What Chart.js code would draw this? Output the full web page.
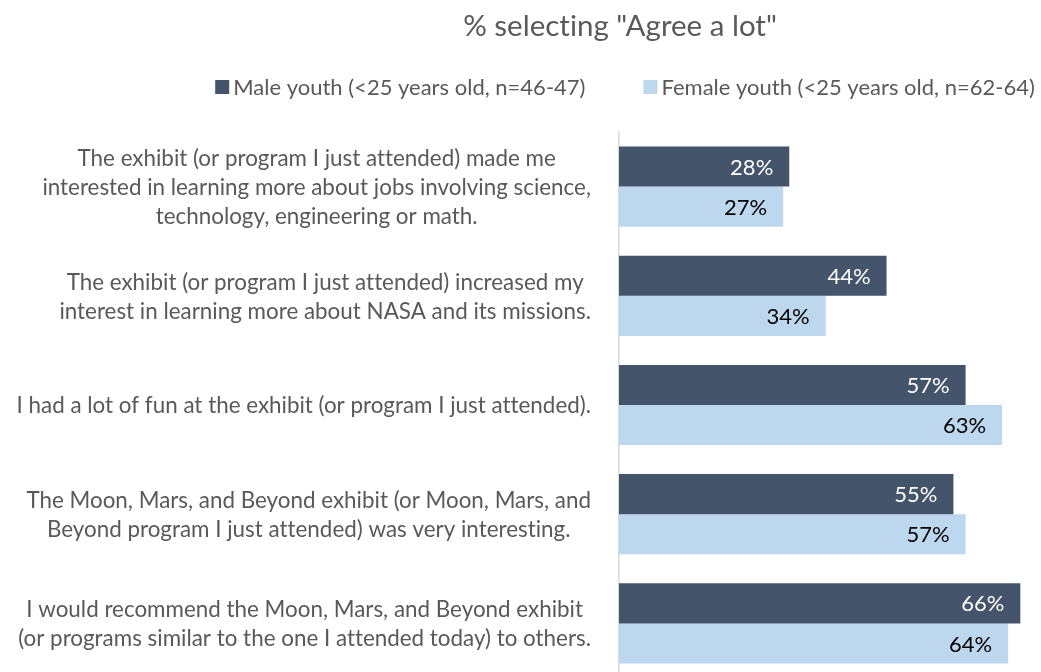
<!DOCTYPE html>
<html>
<head>
<meta charset="utf-8">
<script src="https://cdn.jsdelivr.net/npm/chart.js@4"></script>
<style>
  html, body { margin: 0; padding: 0; background: #fff; overflow: hidden; }
  #wrap { position: relative; width: 1041px; height: 680px; }
</style>
</head>
<body>
<div id="wrap"><canvas id="c"></canvas></div>
<script>
// Survey statements (each entry is one wrapped label, one string per line)
const statements = [
  ["The exhibit (or program I just attended) made me",
   "interested in learning more about jobs involving science,",
   "technology, engineering or math."],
  ["The exhibit (or program I just attended) increased my",
   "interest in learning more about NASA and its missions."],
  ["I had a lot of fun at the exhibit (or program I just attended)."],
  ["The Moon, Mars, and Beyond exhibit (or Moon, Mars, and",
   "Beyond program I just attended) was very interesting."],
  ["I would recommend the Moon, Mars, and Beyond exhibit",
   "(or programs similar to the one I attended today) to others."]
];

// Percent selecting "Agree a lot"
const maleYouth   = [28, 44, 57, 55, 66];
const femaleYouth = [27, 34, 63, 57, 64];

const seriesNames = [
  "Male youth (<25 years old, n=46-47)",
  "Female youth (<25 years old, n=62-64)"
];
const chartTitle = '% selecting "Agree a lot"';

const FONT = "Lato, 'Open Sans', sans-serif";
const TEXT_GREY = "#595959";
const MALE_COLOR = "#44546A";
const FEMALE_COLOR = "#BDD7EE";

// Title, legend, wrapped category labels and value labels
const decorations = {
  id: "decorations",
  afterDatasetsDraw(chart) {
    const ctx = chart.ctx;
    const area = chart.chartArea;
    const yScale = chart.scales.y;
    ctx.save();
    // plain glyphs, no ligatures
    if ("textRendering" in ctx) ctx.textRendering = "optimizeSpeed";

    // Title
    ctx.fillStyle = TEXT_GREY;
    ctx.font = "29.5px " + FONT;
    ctx.textAlign = "center";
    ctx.textBaseline = "middle";
    ctx.fillText(chartTitle, 620, 26);

    // Legend
    ctx.font = "22px " + FONT;
    const box = 14, gap = 4, spacing = 58;
    const colors = chart.data.datasets.map(d => d.backgroundColor);
    const names = chart.data.datasets.map(d => d.label);
    const widths = names.map(n => ctx.measureText(n).width);
    const total = widths.reduce((s, w) => s + box + gap + w, 0) + spacing * (names.length - 1);
    let lx = 625 - total / 2;
    const ly = 87;
    ctx.textAlign = "left";
    names.forEach((n, i) => {
      ctx.fillStyle = colors[i];
      ctx.fillRect(lx, ly - box / 2, box, box);
      lx += box + gap;
      ctx.fillStyle = TEXT_GREY;
      ctx.fillText(n, lx, ly + 1);
      lx += widths[i] + spacing;
    });

    // Category labels: each block right-aligned against the axis, lines centred within it
    ctx.font = "22.4px " + FONT;
    ctx.fillStyle = TEXT_GREY;
    ctx.textAlign = "center";
    const lineH = 29;
    const rightEdge = area.left - 28;
    chart.data.labels.forEach((lines, i) => {
      const cy = yScale.getPixelForValue(i);
      const blockW = Math.max(...lines.map(l => ctx.measureText(l).width));
      const cx = rightEdge - blockW / 2;
      const y0 = cy - (lines.length - 1) * lineH / 2;
      lines.forEach((l, j) => ctx.fillText(l, cx, y0 + j * lineH + 1));
    });

    // Value labels inside the bar ends
    ctx.font = "22px " + FONT;
    ctx.textAlign = "right";
    chart.data.datasets.forEach((ds, di) => {
      const meta = chart.getDatasetMeta(di);
      ctx.fillStyle = di === 0 ? "#FFFFFF" : "#000000";
      meta.data.forEach((bar, i) => {
        ctx.fillText(ds.data[i] + "%", bar.x - 16, bar.y + 1);
      });
    });

    ctx.restore();
  }
};

new Chart(document.getElementById("c"), {
  type: "bar",
  data: {
    labels: statements,
    datasets: [
      { label: seriesNames[0], data: maleYouth, backgroundColor: MALE_COLOR, borderWidth: 0 },
      { label: seriesNames[1], data: femaleYouth, backgroundColor: FEMALE_COLOR, borderWidth: 0 }
    ]
  },
  options: {
    indexAxis: "y",
    responsive: true,
    maintainAspectRatio: false,
    animation: false,
    layout: { padding: { top: 132, bottom: 2, left: 0, right: 0 } },
    datasets: { bar: { categoryPercentage: 0.734, barPercentage: 1.0 } },
    plugins: {
      legend: { display: false },
      title: { display: false },
      tooltip: { enabled: false }
    },
    scales: {
      x: {
        display: false,
        min: 0,
        max: 69.4
      },
      y: {
        grid: { display: false, drawTicks: false },
        border: { display: true, color: "#D9D9D9", width: 1.5 },
        ticks: { display: false },
        afterFit(scale) { scale.width = 619; }
      }
    }
  },
  plugins: [decorations]
});
</script>
</body>
</html>
